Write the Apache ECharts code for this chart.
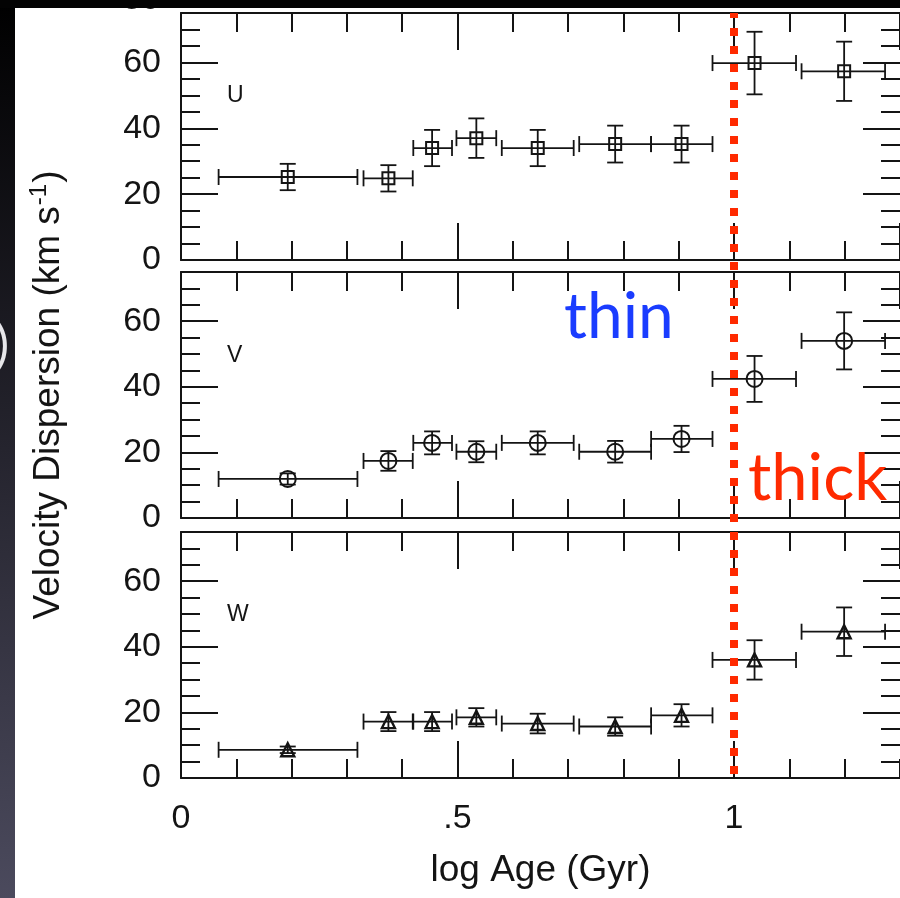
<!DOCTYPE html>
<html><head><meta charset="utf-8">
<script src="https://cdn.jsdelivr.net/npm/echarts@6/dist/echarts.min.js"></script>
<style>html,body{margin:0;padding:0;background:#fff}#c{width:900px;height:898px}</style>
</head><body><div id="c"></div>
<script>
// ---- data ----
const binLow  = [0.068, 0.330, 0.420, 0.498, 0.580, 0.720, 0.850, 0.961, 1.122];
const binHigh = [0.319, 0.419, 0.490, 0.570, 0.710, 0.850, 0.961, 1.112, 1.273];
const ageMid  = [0.193, 0.375, 0.454, 0.534, 0.645, 0.785, 0.905, 1.037, 1.199];
const sigmaU = [25.2, 24.8, 34.0, 37.0, 34.0, 35.2, 35.2, 59.8, 57.3];
const errU   = [4.0, 4.0, 5.5, 6.0, 5.5, 5.6, 5.6, 9.5, 9.0];
const sigmaV = [11.9, 17.4, 22.9, 20.2, 22.9, 20.2, 24.1, 42.4, 54.0];
const errV   = [1.7, 3.0, 3.5, 3.2, 3.5, 3.3, 4.0, 7.0, 8.7];
const sigmaW = [8.6, 17.2, 17.2, 18.5, 16.6, 15.7, 19.1, 36.0, 44.6];
const errW   = [1.0, 2.9, 2.9, 2.8, 3.0, 2.8, 3.4, 6.0, 7.4];
const panelNames = ['U', 'V', 'W'];
const xTickValues = [0, 0.5, 1];
const xTickLabels = ['0', '.5', '1'];
const yTickValues = [0, 20, 40, 60];
const yTickLabels = ['0', '20', '40', '60'];
const boundaryAge = 1;

// ---- chart ----
const INK = '#141414';
const FONT = '"Liberation Sans", Arial, Helvetica, sans-serif';
const chart = echarts.init(document.getElementById('c'), null, {renderer: 'canvas'});

const grids = [
  {left: 181, top: 13, width: 720, height: 247},
  {left: 181, top: 272, width: 720, height: 246},
  {left: 181, top: 532, width: 720, height: 246},
  {left: 181, top: 13, width: 720, height: 761}
];

function lookup(vals, labels, v) {
  const k = vals.findIndex(t => Math.abs(t - v) < 1e-6);
  return k < 0 ? '' : labels[k];
}

function xAx(g, pos, interval, len, showLine, showLabel) {
  return {
    type: 'value', gridIndex: g, position: pos, min: 0, max: 1.3, interval: interval,
    axisLine: {show: showLine, onZero: false, lineStyle: {color: INK, width: 2}},
    axisTick: {show: true, inside: true, length: len, lineStyle: {color: INK, width: 2}},
    axisLabel: {show: showLabel, margin: 24, fontSize: 34, color: INK, fontFamily: FONT,
      showMaxLabel: false, formatter: v => lookup(xTickValues, xTickLabels, v)},
    splitLine: {show: false}
  };
}
function yAx(g, pos, interval, len, showLine, showLabel) {
  return {
    type: 'value', gridIndex: g, position: pos, min: 0, max: 75, interval: interval,
    axisLine: {show: showLine, onZero: false, lineStyle: {color: INK, width: 2}},
    axisTick: {show: true, inside: true, length: len, lineStyle: {color: INK, width: 2}},
    axisLabel: {show: showLabel, margin: 20, fontSize: 34, color: INK, fontFamily: FONT,
      showMaxLabel: false, formatter: v => lookup(yTickValues, yTickLabels, v)},
    splitLine: {show: false}
  };
}

const xAxes = [], yAxes = [];
for (let g = 0; g < 3; g++) {
  xAxes.push(xAx(g, 'bottom', 0.5, 37, true, g === 2));
  xAxes.push(xAx(g, 'bottom', 0.1, 19, false, false));
  xAxes.push(xAx(g, 'top', 0.5, 37, true, false));
  xAxes.push(xAx(g, 'top', 0.1, 19, false, false));
  yAxes.push(yAx(g, 'left', 20, 37, true, true));
  yAxes.push(yAx(g, 'left', 5, 19, false, false));
  yAxes.push(yAx(g, 'right', 20, 37, false, false));
  yAxes.push(yAx(g, 'right', 5, 19, false, false));
}
// overlay grid for the thin/thick boundary
xAxes.push({type: 'value', gridIndex: 3, min: 0, max: 1.3, show: false, axisLine: {onZero: false}});
yAxes.push({type: 'value', gridIndex: 3, min: 0, max: 1, show: false, axisLine: {onZero: false}});

xAxes[8].name = 'log Age (Gyr)';
xAxes[8].nameLocation = 'middle';
xAxes[8].nameGap = 74;
xAxes[8].nameTextStyle = {fontSize: 37, color: INK, fontFamily: FONT};

yAxes[4].name = '{a|Velocity Dispersion (km s}{b|-1}{a|)}';
yAxes[4].nameLocation = 'middle';
yAxes[4].nameGap = 110;
yAxes[4].nameTextStyle = {
  color: INK, fontFamily: FONT,
  rich: {
    a: {fontSize: 37, color: INK, fontFamily: FONT, lineHeight: 44},
    b: {fontSize: 24, color: INK, fontFamily: FONT, verticalAlign: 'top', lineHeight: 44, padding: [0, 1, 14, 1]}
  }
};

function rows(sig, err) {
  return ageMid.map((a, i) => [a, sig[i], err[i], binLow[i], binHigh[i]]);
}

function errorSeries(g, data) {
  return {
    type: 'custom', xAxisIndex: 4 * g, yAxisIndex: 4 * g, data: data,
    encode: {x: 0, y: 1}, silent: true, animation: false, z: 3,
    renderItem(params, api) {
      const x = api.value(0), y = api.value(1), e = api.value(2);
      const lo = api.value(3), hi = api.value(4);
      const L = api.coord([lo, y]), R = api.coord([hi, y]);
      const T = api.coord([x, y + e]), B = api.coord([x, y - e]);
      const hc = 8, vc = 8;
      const ln = (x1, y1, x2, y2) => ({type: 'line', shape: {x1, y1, x2, y2},
        style: {stroke: INK, lineWidth: 1.8, fill: null}});
      return {type: 'group', children: [
        ln(L[0], L[1], R[0], R[1]),
        ln(L[0], L[1] - hc, L[0], L[1] + hc),
        ln(R[0], R[1] - hc, R[0], R[1] + hc),
        ln(T[0], T[1], B[0], B[1]),
        ln(T[0] - vc, T[1], T[0] + vc, T[1]),
        ln(B[0] - vc, B[1], B[0] + vc, B[1])
      ]};
    }
  };
}
function markerSeries(g, sig, symbol, size, bw) {
  return {
    type: 'scatter', xAxisIndex: 4 * g, yAxisIndex: 4 * g, z: 4, animation: false, silent: true,
    data: ageMid.map((a, i) => [a, sig[i]]), symbol: symbol, symbolSize: size,
    itemStyle: {color: 'rgba(255,255,255,0)', borderColor: INK, borderWidth: bw, opacity: 1}
  };
}

const series = [
  errorSeries(0, rows(sigmaU, errU)), markerSeries(0, sigmaU, 'rect', 12, 2),
  errorSeries(1, rows(sigmaV, errV)), markerSeries(1, sigmaV, 'circle', 16, 2),
  errorSeries(2, rows(sigmaW, errW)), markerSeries(2, sigmaW, 'triangle', 13, 2.4),
  {
    type: 'line', xAxisIndex: 12, yAxisIndex: 12, data: [], z: 10,
    markLine: {
      silent: true, z: 10, symbol: ['none', 'none'], animation: false,
      label: {show: false},
      lineStyle: {color: '#ff2a00', width: 8, type: [8, 10], cap: 'butt', opacity: 1},
      data: [{xAxis: boundaryAge}]
    }
  }
];

const panelLabelY = [96, 356, 615];
const graphic = [];
panelNames.forEach((n, i) => graphic.push({
  type: 'text', left: 227, top: panelLabelY[i] - 12, z: 5,
  style: {text: n, font: '23px ' + FONT, fill: INK}
}));
graphic.push({type: 'text', x: 160, y: 0, z: 5,
  style: {text: '80', font: '34px ' + FONT, fill: INK, align: 'right', verticalAlign: 'middle'}});
graphic.push({type: 'text', x: 564, y: 349, z: 20,
  style: {text: 'thin', font: '64px Lato', fill: '#1a3cff', align: 'left', verticalAlign: 'bottom'}});
graphic.push({type: 'text', x: 748, y: 512, z: 20,
  style: {text: 'thick', font: '65px Lato', fill: '#ff2a00', align: 'left', verticalAlign: 'bottom'}});
graphic.push({type: 'rect', z: 100, shape: {x: 0, y: 0, width: 15, height: 898},
  style: {fill: new echarts.graphic.LinearGradient(0, 0, 0, 1, [
    {offset: 0, color: '#000000'}, {offset: 0.5, color: '#25242e'}, {offset: 1, color: '#4b4a5d'}])}});
graphic.push({type: 'rect', z: 100, shape: {x: 0, y: 0, width: 900, height: 8},
  style: {fill: '#030303'}});
graphic.push({type: 'text', x: 9, y: 346, z: 101,
  style: {text: ')', font: '50px Lato', fill: '#e6e6ea', align: 'right', verticalAlign: 'middle'}});

chart.setOption({
  backgroundColor: '#ffffff',
  animation: false,
  grid: grids,
  xAxis: xAxes,
  yAxis: yAxes,
  series: series,
  graphic: graphic
});
</script>
</body></html>
